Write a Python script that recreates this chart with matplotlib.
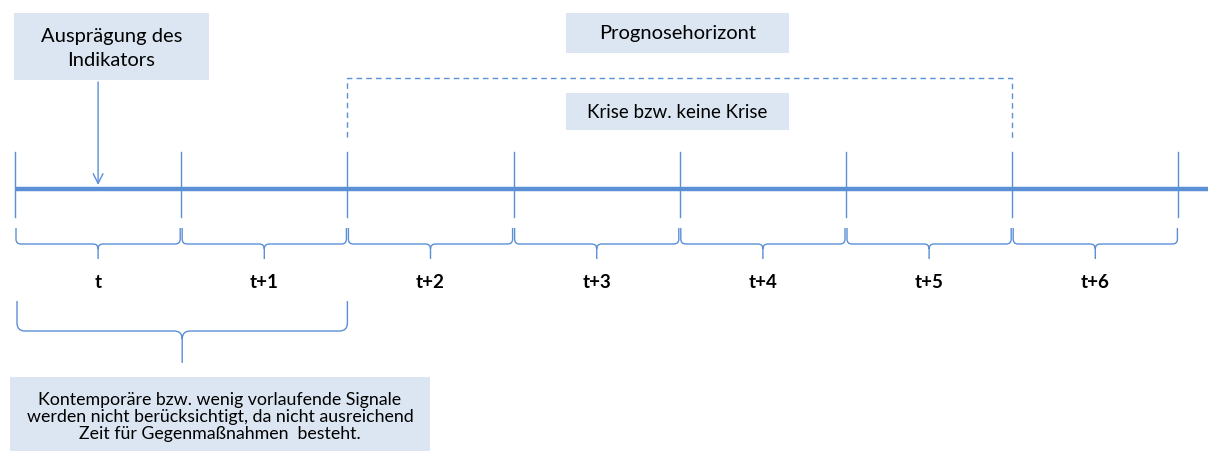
import matplotlib
matplotlib.use("Agg")
import matplotlib.pyplot as plt
from matplotlib.path import Path
from matplotlib.patches import PathPatch, Rectangle

plt.rcParams['font.family'] = ['Lato', 'DejaVu Sans']

# ---- data ----
period_labels = ["t", "t+1", "t+2", "t+3", "t+4", "t+5", "t+6"]
indicator_text = "Ausprägung des\nIndikators"
horizon_text = "Prognosehorizont"
crisis_text = "Krise bzw. keine Krise"
note_text = ("Kontemporäre bzw. wenig vorlaufende Signale\n"
             "werden nicht berücksichtigt, da nicht ausreichend\n"
             "Zeit für Gegenmaßnahmen  besteht.")
horizon_start, horizon_end = 2, 6   # boundary indices of forecast horizon
excluded_start, excluded_end = 0, 2  # boundaries of excluded periods
indicator_period = 0

W, H = 1208, 452
fig = plt.figure(figsize=(W / 100, H / 100), dpi=100)
ax = fig.add_axes([0, 0, 1, 1])
ax.set_xlim(0, W)
ax.set_ylim(H, 0)
ax.axis('off')

BLUE = '#5B8FD6'
BOX = '#DCE6F2'
x0, step = 15, 166.2
def bx(i):
    return x0 + i * step

n = len(period_labels)

# main time line
ax.plot([bx(0), W], [190, 190], color=BLUE, lw=3.2, solid_capstyle='butt')
for i in range(n + 1):
    ax.plot([bx(i), bx(i)], [153, 218], color=BLUE, lw=1.0)


def brace(a, b, ytop, ymid, ytip, r, lw=1.0):
    m = (a + b) / 2
    verts = [(a, ytop), (a, ymid - r), (a, ymid), (a + r, ymid),
             (m - r, ymid), (m, ymid), (m, ymid + r), (m, ytip),
             (m, ymid + r), (m, ymid), (m + r, ymid),
             (b - r, ymid), (b, ymid), (b, ymid - r), (b, ytop)]
    codes = [Path.MOVETO, Path.LINETO, Path.CURVE3, Path.CURVE3,
             Path.LINETO, Path.CURVE3, Path.CURVE3, Path.LINETO,
             Path.MOVETO, Path.CURVE3, Path.CURVE3,
             Path.LINETO, Path.CURVE3, Path.CURVE3, Path.LINETO]
    ax.add_patch(PathPatch(Path(verts, codes), fill=False, ec=BLUE, lw=lw))


for i, lab in enumerate(period_labels):
    a, b = bx(i) + 1, bx(i + 1) - 1
    brace(a, b, 229, 245, 260, 5)
    ax.text((a + b) / 2, 283, lab, ha='center', va='center',
            fontsize=13.5, fontweight='bold', color='black')

# big brace under excluded periods
brace(bx(excluded_start) + 2, bx(excluded_end), 302, 332, 364, 8)

# boxes
def box(x, y, w, h, text, fs, ls=1.2, dy=0):
    ax.add_patch(Rectangle((x, y), w, h, fc=BOX, ec='none', zorder=1))
    ax.text(x + w / 2, y + h / 2 + dy, text, ha='center', va='center',
            fontsize=fs, color='black', linespacing=ls, zorder=2)

box(14, 14, 195, 67, indicator_text, 14.5, 1.45, 1)
box(566, 14, 223, 40, horizon_text, 14.5)
box(566, 94, 223, 37, crisis_text, 13.5)
box(10, 378, 420, 74, note_text, 12.8, 1.05, 2)

# arrow from indicator box
xi = (bx(indicator_period) + bx(indicator_period + 1)) / 2
ax.annotate('', xy=(xi, 186), xytext=(xi, 83),
            arrowprops=dict(arrowstyle='->,head_length=0.7,head_width=0.35',
                            color=BLUE, lw=1.0, shrinkA=0, shrinkB=0))

# dashed forecast horizon bracket
hs, he = bx(horizon_start), bx(horizon_end)
ax.plot([hs, hs, he, he], [138, 79, 79, 140], color=BLUE, lw=1.0,
        ls=(0, (4, 3)))

fig.savefig('out.png', dpi=100)
